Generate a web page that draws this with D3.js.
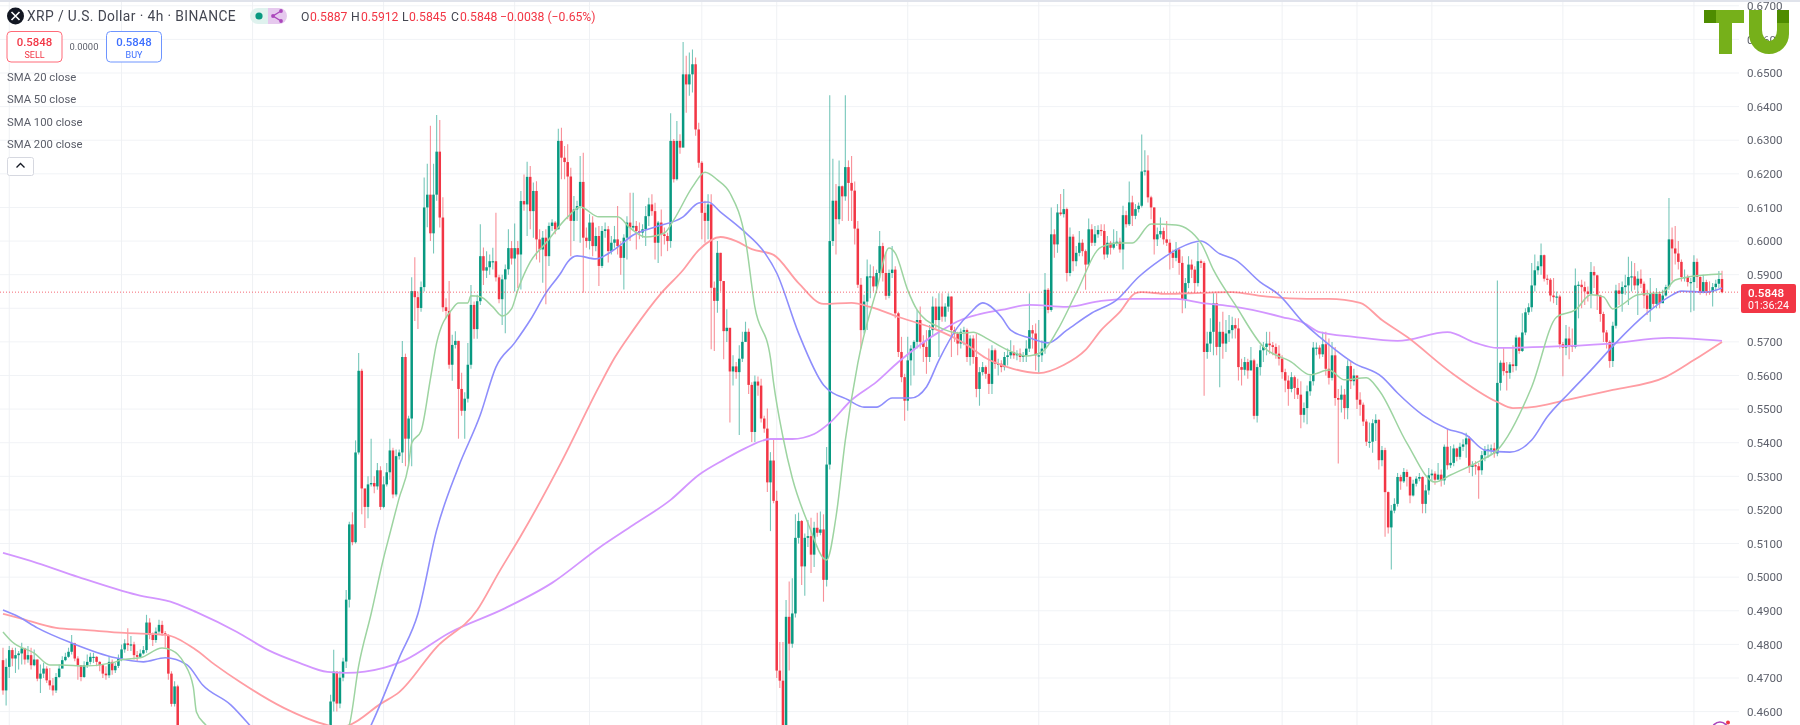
<!DOCTYPE html>
<html lang="en">
<head>
<meta charset="utf-8">
<title>XRP / U.S. Dollar 4h</title>
<script src="https://d3js.org/d3.v7.min.js"></script>
<style>
  html, body { margin: 0; padding: 0; background: #fff; }
  svg { display: block; font-family: Roboto, "Open Sans", sans-serif; filter: blur(0.4px); }
</style>
</head>
<body>
<div id="chart"></div>
<script>
// prices are stored in units of 0.0001, one row = 10 bars
const closes = [
  4663,4733,4783,4758,4768,4773,4788,4755,4768,4738,
  4755,4698,4713,4728,4693,4678,4663,4703,4728,4753,
  4763,4778,4803,4758,4738,4703,4738,4748,4763,4763,
  4748,4738,4713,4708,4748,4723,4736,4758,4785,4803,
  4798,4800,4768,4763,4773,4783,4865,4828,4813,4838,
  4858,4833,4828,4713,4623,4675,4558,4490,4450,4420,
  4400,4360,4330,4350,4310,4280,4300,4320,4290,4260,
  4280,4310,4340,4320,4350,4370,4340,4310,4330,4360,
  4390,4370,4400,4420,4390,4410,4440,4420,4390,4410,
  4440,4460,4430,4450,4480,4460,4440,4470,4490,4470,
  4490,4510,4490,4520,4540,4630,4719,4624,4701,4749,
  4933,5157,5104,5371,5614,5264,5209,5276,5280,5270,
  5318,5209,5276,5312,5377,5246,5360,5371,5655,5412,
  5472,5851,5833,5801,5863,6100,6138,6023,6138,6266,
  6070,5803,5792,5632,5691,5703,5560,5495,5531,5632,
  5810,5738,5821,5955,5912,5922,5940,5940,5892,5827,
  5886,5916,5979,5948,5979,5960,6119,6109,6191,6089,
  6149,6005,5975,6010,5955,6045,6055,6035,6298,6248,
  6235,6192,6060,6094,6104,6176,6010,6000,6055,5985,
  6015,5926,6030,6035,5970,5995,6005,5985,5950,6010,
  6055,6040,6045,6030,6025,6035,6074,6109,6089,5995,
  6055,6020,6015,6000,6298,6184,6298,6278,6496,6466,
  6496,6526,6332,6233,6084,6060,6109,5861,5822,5965,
  5881,5732,5742,5612,5627,5610,5650,5700,5730,5572,
  5432,5582,5570,5472,5442,5282,5347,5227,4722,4692,
  4500,4882,4802,4892,5117,5167,5032,5117,5122,5067,
  5147,5132,5142,4992,5335,6000,6120,6065,6163,6133,
  6220,6173,6150,6037,5870,5735,5820,5895,5895,5865,
  5905,5985,5905,5837,5905,5915,5785,5670,5595,5525,
  5645,5680,5700,5765,5700,5685,5655,5735,5805,5765,
  5805,5775,5805,5835,5735,5725,5695,5730,5735,5655,
  5710,5655,5560,5610,5625,5605,5575,5675,5635,5635,
  5625,5655,5660,5670,5660,5665,5655,5660,5680,5735,
  5725,5660,5660,5680,5855,5795,6020,5990,6085,6080,
  6095,5905,6013,5940,5965,5995,5970,5930,6035,5995,
  6020,6033,6030,5960,5995,5980,5995,5998,5975,6077,
  6050,6115,6075,6095,6105,6207,6210,6130,6100,6005,
  6020,6030,6005,5995,5965,5950,5975,5935,5825,5875,
  5930,5915,5875,5940,5935,5670,5695,5730,5815,5685,
  5730,5695,5725,5735,5750,5740,5625,5617,5640,5615,
  5645,5480,5625,5675,5685,5695,5690,5685,5665,5650,
  5610,5585,5560,5595,5563,5543,5483,5503,5553,5583,
  5683,5683,5663,5693,5620,5593,5660,5533,5528,5543,
  5503,5628,5583,5600,5528,5513,5463,5403,5403,5458,
  5468,5348,5378,5253,5148,5198,5218,5298,5285,5313,
  5298,5243,5278,5293,5298,5218,5258,5303,5308,5290,
  5305,5288,5388,5333,5340,5383,5358,5388,5395,5413,
  5328,5333,5330,5318,5363,5378,5380,5383,5368,5578,
  5638,5613,5608,5633,5628,5713,5673,5728,5788,5803,
  5868,5913,5925,5958,5888,5885,5838,5833,5835,5693,
  5683,5710,5690,5685,5868,5870,5863,5850,5843,5908,
  5898,5838,5783,5728,5700,5643,5748,5853,5843,5863,
  5868,5893,5895,5868,5888,5873,5838,5798,5843,5813,
  5843,5815,5838,5863,6005,5978,5963,5938,5893,5893,
  5878,5878,5938,5893,5848,5878,5850,5848,5863,5873,
  5887,5848
];
const highs = [
  4790,4758,4795,4790,4790,4780,4805,4790,4795,4790,
  4785,4755,4740,4745,4735,4730,4700,4715,4740,4765,
  4775,4790,4828,4805,4765,4730,4750,4770,4775,4775,
  4765,4750,4740,4735,4765,4755,4745,4770,4800,4815,
  4848,4825,4808,4780,4785,4795,4888,4878,4835,4850,
  4873,4870,4840,4830,4720,4690,4680,4560,4500,4460,
  4430,4410,4370,4370,4360,4320,4320,4340,4330,4300,
  4300,4330,4360,4350,4370,4390,4380,4350,4350,4380,
  4410,4400,4420,4440,4430,4430,4460,4450,4430,4430,
  4460,4480,4470,4470,4500,4490,4470,4490,4510,4500,
  4510,4530,4520,4540,4560,4650,4784,4719,4720,4760,
  4962,5165,5193,5407,5667,5620,5260,5300,5412,5300,
  5340,5330,5300,5340,5412,5385,5380,5380,5703,5665,
  5480,5892,5952,5850,5880,6189,6230,6343,6230,6375,
  6360,6130,5830,5881,5721,5732,5703,5608,5550,5697,
  5869,5820,5840,6050,5981,5970,5960,5980,6084,5900,
  5900,5930,6035,6000,6052,6000,6149,6198,6236,6223,
  6174,6178,6035,6030,6035,6055,6065,6060,6334,6337,
  6283,6288,6218,6134,6120,6253,6263,6040,6080,6074,
  6040,6045,6045,6055,6045,6015,6045,6104,6000,6020,
  6074,6144,6144,6060,6055,6050,6104,6129,6139,6114,
  6060,6094,6040,6025,6380,6304,6357,6318,6592,6551,
  6561,6570,6546,6352,6238,6120,6139,6139,5880,6000,
  5965,5881,5797,5740,5660,5640,5690,5730,5760,5740,
  5580,5600,5597,5590,5480,5502,5372,5409,5257,4807,
  4807,4932,4987,4997,5187,5192,5170,5130,5170,5177,
  5165,5192,5195,5187,5387,6434,6245,6170,6240,6165,
  6434,6240,6253,6177,6060,5890,5840,5945,5930,5925,
  5915,6030,5995,5965,5915,5985,5925,5790,5715,5605,
  5715,5690,5705,5795,5805,5720,5735,5750,5835,5830,
  5845,5845,5815,5845,5835,5745,5730,5740,5745,5740,
  5720,5720,5725,5625,5640,5630,5680,5690,5680,5650,
  5645,5670,5680,5705,5690,5675,5680,5670,5705,5845,
  5750,5755,5765,5705,5905,5860,6100,6035,6110,6140,
  6155,6100,6040,6020,5985,6030,6005,5975,6067,6050,
  6045,6047,6050,6050,6015,6000,6035,6030,6010,6105,
  6090,6177,6135,6110,6115,6317,6270,6255,6135,6100,
  6040,6070,6040,6060,6005,5975,5997,5980,5955,5890,
  5955,5945,5925,5995,5945,5940,5730,5770,5845,5845,
  5760,5790,5765,5780,5775,5770,5770,5650,5655,5650,
  5685,5650,5635,5690,5700,5730,5730,5700,5695,5690,
  5660,5620,5600,5610,5600,5590,5583,5520,5570,5600,
  5700,5698,5690,5730,5730,5710,5700,5685,5560,5570,
  5560,5645,5640,5620,5600,5550,5520,5470,5460,5470,
  5485,5470,5390,5385,5255,5215,5235,5310,5305,5325,
  5320,5300,5290,5300,5310,5300,5275,5325,5320,5315,
  5340,5320,5395,5440,5390,5395,5385,5400,5410,5430,
  5420,5345,5345,5340,5375,5390,5395,5395,5400,5883,
  5645,5683,5640,5640,5690,5720,5715,5785,5800,5815,
  5935,5960,5940,5993,5960,5900,5890,5890,5850,5840,
  5700,5750,5745,5740,5918,5880,5885,5880,5865,5938,
  5925,5900,5840,5790,5735,5705,5760,5870,5875,5880,
  5900,5953,5940,5935,5910,5915,5880,5855,5890,5850,
  5860,5850,5855,5870,6128,6040,6045,6000,5945,5915,
  5900,5890,5958,5948,5895,5900,5885,5880,5875,5885,
  5911,5912
];
const lows = [
  4650,4618,4700,4735,4715,4725,4740,4740,4745,4725,
  4735,4690,4655,4700,4685,4665,4648,4655,4700,4735,
  4750,4760,4770,4750,4695,4690,4700,4730,4740,4745,
  4735,4720,4700,4695,4700,4710,4715,4730,4750,4775,
  4780,4780,4755,4750,4760,4770,4775,4815,4795,4805,
  4830,4825,4790,4695,4615,4615,4550,4470,4430,4390,
  4370,4330,4310,4320,4290,4260,4270,4300,4270,4240,
  4260,4270,4320,4300,4310,4350,4320,4290,4300,4320,
  4370,4350,4380,4400,4370,4380,4420,4400,4370,4380,
  4420,4440,4410,4420,4450,4440,4420,4440,4470,4450,
  4470,4490,4470,4490,4510,4560,4600,4600,4610,4690,
  4730,4910,5095,5100,5365,5187,5146,5175,5270,5250,
  5260,5200,5205,5270,5290,5235,5240,5350,5340,5330,
  5330,5330,5762,5738,5790,5850,6041,6000,5963,6120,
  6040,5790,5770,5620,5584,5680,5412,5480,5412,5520,
  5620,5709,5709,5810,5869,5890,5900,5915,5880,5815,
  5750,5726,5900,5930,5850,5860,5856,6090,6015,6035,
  6010,5945,5936,5876,5812,5926,6030,6020,6035,6184,
  6184,6065,5955,6000,6060,5995,5846,5980,5975,5955,
  5970,5866,5920,6010,5936,5960,5980,5960,5900,5856,
  5945,6000,6030,5975,6005,6010,5985,6045,6075,5945,
  5935,5955,5990,5970,5980,6174,6180,6260,6283,6382,
  6432,6442,6313,6218,6005,5995,6005,5678,5673,5787,
  5850,5648,5700,5460,5570,5590,5423,5640,5700,5545,
  5402,5402,5540,5460,5430,5253,5137,5220,4700,4670,
  4480,4490,4722,4790,4880,5100,4977,4945,5090,5012,
  5030,5120,5125,4927,4972,5320,5985,5960,6050,6060,
  6120,6060,6060,5990,5860,5680,5725,5735,5830,5850,
  5845,5890,5880,5825,5830,5890,5770,5655,5580,5465,
  5495,5570,5600,5680,5680,5640,5605,5640,5720,5740,
  5655,5760,5760,5790,5655,5700,5660,5680,5690,5640,
  5630,5635,5535,5510,5600,5590,5545,5545,5620,5600,
  5610,5615,5630,5650,5650,5645,5640,5640,5640,5670,
  5680,5615,5605,5640,5665,5785,5790,5950,5965,6075,
  6070,5880,5895,5910,5925,5955,5955,5855,5925,5985,
  5985,6010,6015,5945,5950,5960,5975,5985,5965,5915,
  6040,6045,6045,6065,6085,6100,6195,6115,6065,5960,
  5985,6010,5990,5985,5915,5920,5940,5900,5785,5800,
  5860,5890,5845,5865,5920,5540,5650,5670,5660,5660,
  5565,5650,5670,5700,5710,5710,5585,5570,5600,5590,
  5620,5470,5460,5600,5640,5660,5665,5660,5650,5630,
  5590,5550,5510,5550,5530,5530,5443,5460,5455,5540,
  5570,5660,5650,5655,5600,5573,5585,5510,5338,5490,
  5470,5470,5560,5570,5500,5480,5450,5390,5385,5370,
  5405,5320,5330,5120,5130,5023,5190,5210,5260,5280,
  5270,5220,5240,5270,5285,5190,5190,5245,5285,5275,
  5295,5270,5275,5320,5325,5330,5345,5350,5375,5355,
  5310,5300,5305,5233,5305,5345,5355,5365,5355,5360,
  5555,5600,5555,5590,5610,5615,5665,5670,5720,5780,
  5790,5850,5900,5900,5880,5870,5820,5815,5810,5680,
  5598,5660,5648,5670,5680,5770,5800,5810,5820,5800,
  5860,5795,5760,5700,5680,5623,5625,5740,5810,5790,
  5840,5810,5850,5855,5780,5860,5800,5780,5760,5800,
  5800,5800,5820,5835,5855,5880,5930,5915,5880,5880,
  5865,5788,5793,5860,5840,5845,5838,5840,5805,5850,
  5860,5845
];

const sma20 = [[0,4837],[3,4807],[10,4774],[15,4739],[19,4739],[26,4736],[35,4745],[38,4754],[44,4760],[51,4789],[54,4783],[58,4745],[61,4673],[62,4599],[65,4560],[82,4397],[102,4426],[111,4560],[114,4736],[118,4891],[122,5057],[124,5129],[127,5236],[130,5334],[131,5399],[134,5435],[137,5590],[139,5697],[144,5798],[146,5816],[149,5816],[150,5837],[153,5834],[157,5804],[160,5777],[163,5798],[165,5854],[169,5938],[174,5994],[181,6072],[185,6101],[191,6072],[197,6072],[201,6039],[206,6012],[212,6024],[215,6063],[221,6161],[225,6205],[229,6182],[233,6143],[238,6003],[241,5804],[246,5652],[247,5578],[250,5417],[253,5295],[258,5161],[264,5051],[267,5179],[270,5408],[274,5637],[280,5854],[284,5979],[286,5964],[290,5854],[293,5795],[300,5744],[307,5726],[311,5729],[315,5712],[322,5676],[328,5658],[333,5670],[338,5735],[344,5845],[352,5982],[358,5994],[362,5994],[368,6051],[376,6048],[384,5994],[388,5914],[395,5810],[404,5685],[413,5640],[419,5602],[425,5616],[430,5587],[437,5593],[441,5557],[450,5399],[459,5283],[464,5304],[474,5349],[479,5378],[490,5566],[498,5774],[504,5795],[509,5840],[513,5834],[516,5798],[524,5840],[532,5848],[536,5884],[540,5893],[551,5902]];
const sma50 = [[0,4902],[5,4882],[11,4849],[22,4804],[36,4760],[45,4748],[52,4760],[59,4739],[64,4679],[73,4620],[79,4560],[95,4367],[106,4367],[118,4560],[127,4760],[133,4891],[139,5140],[146,5328],[153,5483],[158,5625],[164,5697],[169,5765],[174,5845],[179,5908],[181,5938],[184,5956],[190,5947],[197,5982],[202,6018],[209,6042],[218,6072],[223,6113],[226,6116],[230,6086],[237,6033],[244,5967],[248,5905],[255,5726],[263,5572],[271,5527],[276,5506],[280,5506],[285,5533],[291,5533],[296,5566],[300,5646],[306,5744],[310,5786],[314,5816],[320,5774],[323,5735],[329,5712],[335,5697],[341,5735],[349,5786],[357,5825],[364,5893],[371,5944],[377,5979],[384,6000],[390,5962],[395,5944],[403,5878],[409,5840],[417,5756],[422,5715],[433,5637],[442,5596],[447,5548],[455,5483],[463,5441],[469,5423],[475,5378],[483,5372],[490,5408],[495,5477],[502,5548],[509,5616],[517,5697],[527,5786],[534,5834],[538,5851],[546,5848],[551,5860]];
const sma100 = [[0,4891],[5,4879],[17,4849],[26,4843],[39,4834],[52,4828],[61,4789],[68,4739],[76,4688],[90,4611],[104,4560],[108,4554],[111,4560],[121,4623],[127,4658],[139,4792],[152,4902],[159,5015],[166,5123],[179,5343],[191,5566],[196,5652],[202,5735],[211,5845],[218,5914],[223,5973],[230,6012],[235,6000],[240,5976],[247,5959],[255,5875],[263,5813],[272,5816],[278,5804],[287,5774],[298,5741],[309,5691],[315,5652],[322,5625],[332,5607],[340,5631],[347,5676],[352,5735],[358,5789],[363,5845],[365,5848],[373,5843],[384,5846],[394,5848],[403,5837],[418,5828],[425,5828],[435,5816],[442,5765],[450,5715],[464,5610],[479,5521],[484,5503],[490,5506],[501,5527],[516,5557],[533,5596],[542,5646],[551,5700]];
const sma200 = [[0,5072],[11,5042],[24,5001],[43,4947],[55,4923],[62,4896],[75,4837],[85,4783],[95,4745],[104,4718],[110,4715],[122,4730],[129,4754],[143,4834],[161,4908],[176,4983],[191,5087],[202,5155],[214,5230],[223,5304],[231,5349],[238,5384],[246,5411],[253,5411],[260,5426],[265,5459],[272,5527],[280,5581],[287,5640],[301,5735],[307,5765],[312,5780],[320,5795],[329,5810],[341,5804],[352,5822],[362,5828],[376,5828],[384,5816],[395,5804],[410,5774],[417,5756],[422,5729],[433,5715],[447,5703],[463,5729],[472,5697],[479,5682],[494,5685],[514,5694],[534,5712],[551,5703]];

const priceTicks = d3.range(4600, 6800, 100);
const hiddenTick = 5800; // sits behind the last price tag
const gridBars = [2,38,80,122,164,188,224,248,290,332,374,410,434,458,500,542];
const lastPrice = 5848;

const width = 1800, height = 725, plotRight = 1739;

const x = d3.scaleLinear().domain([0, closes.length - 1]).range([3, 1722]);
const y = d3.scaleLinear().domain([4600, 6500]).range([711.6, 73]);

const svg = d3.select("#chart").append("svg")
  .attr("width", width)
  .attr("height", height);

svg.append("clipPath").attr("id", "plot")
  .append("rect").attr("x", 0).attr("y", 0).attr("width", plotRight).attr("height", height);

svg.append("rect").attr("width", width).attr("height", 2).attr("fill", "#e0e3eb");

// grid
svg.append("g").selectAll("line").data(priceTicks).join("line")
  .attr("x1", 0).attr("x2", plotRight)
  .attr("y1", d => y(d)).attr("y2", d => y(d))
  .attr("stroke", "#f1f3f6");
svg.append("g").selectAll("line").data(gridBars).join("line")
  .attr("x1", d => x(d)).attr("x2", d => x(d))
  .attr("y1", 2).attr("y2", height)
  .attr("stroke", "#eff1f4");

// candles
const bars = closes.map((c, i) => ({
  i: i, open: i ? closes[i - 1] : 4753, close: c, high: highs[i], low: lows[i]
}));
const green = "#089981", red = "#f23645";
const candles = svg.append("g").attr("clip-path", "url(#plot)");

candles.append("g").selectAll("line").data(bars).join("line")
  .attr("x1", d => x(d.i)).attr("x2", d => x(d.i))
  .attr("y1", d => y(d.high)).attr("y2", d => y(d.low))
  .attr("stroke", d => d.close >= d.open ? green : red)
  .attr("stroke-opacity", 0.55)
  .attr("stroke-width", 1.1);

candles.append("g").selectAll("rect").data(bars).join("rect")
  .attr("x", d => x(d.i) - 1.25)
  .attr("width", 2.5)
  .attr("y", d => y(Math.max(d.open, d.close)))
  .attr("height", d => Math.max(1.2, Math.abs(y(d.open) - y(d.close))))
  .attr("fill", d => d.close >= d.open ? green : red);

// last price line
svg.append("line")
  .attr("x1", 0).attr("x2", plotRight)
  .attr("y1", y(lastPrice)).attr("y2", y(lastPrice))
  .attr("stroke", red)
  .attr("stroke-opacity", 0.75)
  .attr("stroke-dasharray", "1 2");

// moving averages
const line = d3.line().x(d => x(d[0])).y(d => y(d[1])).curve(d3.curveMonotoneX);
const smaLines = [
  [sma200, "#d396ff", 1.8],
  [sma100, "#ff9da3", 1.8],
  [sma50, "#8e8efc", 1.6],
  [sma20, "#9dd4a1", 1.5]
];
candles.append("g").selectAll("path").data(smaLines).join("path")
  .attr("d", d => line(d[0]))
  .attr("fill", "none")
  .attr("stroke", d => d[1])
  .attr("stroke-width", d => d[2]);

// price axis
const axis = svg.append("g")
  .attr("transform", `translate(${plotRight},0)`)
  .call(d3.axisRight(y).tickValues(priceTicks.filter(d => d !== hiddenTick)).tickSize(0).tickPadding(8)
    .tickFormat(d => (d / 10000).toFixed(4)));
axis.select(".domain").remove();
axis.selectAll("text").attr("fill", "#5d606b").style("font-size", "11.6px").style("font-family", "Roboto");

// last price tag
svg.append("rect").attr("x", 1741).attr("y", 284).attr("width", 55).attr("height", 29)
  .attr("rx", 2).attr("fill", red);
svg.append("text").attr("x", 1748).attr("y", 297).attr("fill", "#fff")
  .style("font-size", "11.6px").style("font-weight", 500).text("0.5848");
svg.append("text").attr("x", 1748).attr("y", 309).attr("fill", "#fff")
  .style("font-size", "10.6px").text("01:36:24");

// header
const head = svg.append("g");
head.append("circle").attr("cx", 15.5).attr("cy", 16).attr("r", 8.5).attr("fill", "#131722");
head.append("path").attr("d", "M11.5,12 L19.5,20 M19.5,12 L11.5,20")
  .attr("stroke", "#fff").attr("stroke-width", 1.6);
head.append("text").attr("x", 27).attr("y", 21).attr("fill", "#434651")
  .style("font-size", "13.8px").style("letter-spacing", "0.4px")
  .text("XRP / U.S. Dollar · 4h · BINANCE");

head.append("path").attr("d", "M268,8 H258 A8,8 0 0 0 258,24 H268 Z").attr("fill", "#dff2ee");
head.append("path").attr("d", "M268,8 H279 A8,8 0 0 1 279,24 H268 Z").attr("fill", "#e6c9ee");
head.append("circle").attr("cx", 259).attr("cy", 16).attr("r", 3.6).attr("fill", green);
head.append("path").attr("d", "M281,11 L273,16 L281,21").attr("fill", "none").attr("stroke", "#ab47bc").attr("stroke-width", 1.4);
[[281, 11], [273, 16], [281, 21]].forEach(p => {
  head.append("circle").attr("cx", p[0]).attr("cy", p[1]).attr("r", 1.9).attr("fill", "#ab47bc");
});

const ohlc = head.append("text").attr("y", 20.5).style("font-size", "12.2px");
[["O", 301, "#434651"], ["0.5887", 310, red], ["H", 351, "#434651"], ["0.5912", 361, red],
 ["L", 402, "#434651"], ["0.5845", 409, red], ["C", 451, "#434651"], ["0.5848", 460, red],
 ["−0.0038 (−0.65%)", 500, red]].forEach(t => {
  ohlc.append("tspan").attr("x", t[1]).attr("fill", t[2]).text(t[0]);
});

// sell / buy boxes
const boxes = [
  ["0.5848", "SELL", 7, red, "#ff6b78"],
  ["0.5848", "BUY", 106.5, "#3d6fff", "#6e95ff"]
];
boxes.forEach(b => {
  head.append("rect").attr("x", b[2]).attr("y", 31.5).attr("width", 55).attr("height", 30.5)
    .attr("rx", 4).attr("fill", "#fff").attr("stroke", b[4]);
  head.append("text").attr("x", b[2] + 27.5).attr("y", 46).attr("text-anchor", "middle")
    .attr("fill", b[3]).style("font-size", "11.4px").style("font-weight", 500).text(b[0]);
  head.append("text").attr("x", b[2] + 27.5).attr("y", 57.5).attr("text-anchor", "middle")
    .attr("fill", b[3]).style("font-size", "9px").text(b[1]);
});
head.append("text").attr("x", 84).attr("y", 50).attr("text-anchor", "middle")
  .attr("fill", "#5d606b").style("font-size", "9.4px").text("0.0000");

// study legend
const studyLabels = ["SMA 20 close", "SMA 50 close", "SMA 100 close", "SMA 200 close"];
head.append("g").selectAll("text").data(studyLabels).join("text")
  .attr("x", 7)
  .attr("y", (d, i) => 81 + i * 22.3)
  .attr("fill", "#5a5d68")
  .style("font-size", "11.3px")
  .text(d => d);

head.append("rect").attr("x", 7.5).attr("y", 157.5).attr("width", 26).attr("height", 18)
  .attr("rx", 2).attr("fill", "#fff").attr("stroke", "#d6d8e0");
head.append("path").attr("d", "M16.5,167.5 L20.5,163.5 L24.5,167.5").attr("fill", "none")
  .attr("stroke", "#131722").attr("stroke-width", 1.3);

// TU logo
const logoGreen = "#76b01a", logoDark = "#4e8c00";
const logo = svg.append("g");
logo.append("rect").attr("x", 1704).attr("y", 10).attr("width", 12).attr("height", 13).attr("fill", logoDark);
logo.append("path").attr("d", "M1716,10 H1744 V23 H1732 V54 H1719 V23 H1716 Z").attr("fill", logoGreen);
logo.append("path").attr("d", "M1749,10 H1762 V30 A7.5,11 0 0 0 1777,30 V23 H1789 V34 A20,20 0 0 1 1749,34 Z").attr("fill", logoGreen);
logo.append("rect").attr("x", 1777).attr("y", 10).attr("width", 12).attr("height", 13).attr("fill", logoDark);

// corner badge
svg.append("circle").attr("cx", 1720).attr("cy", 730).attr("r", 8).attr("fill", "#fff")
  .attr("stroke", "#ab47bc").attr("stroke-width", 1.6);
svg.append("circle").attr("cx", 1728).attr("cy", 722.5).attr("r", 2).attr("fill", red);
</script>
</body>
</html>
